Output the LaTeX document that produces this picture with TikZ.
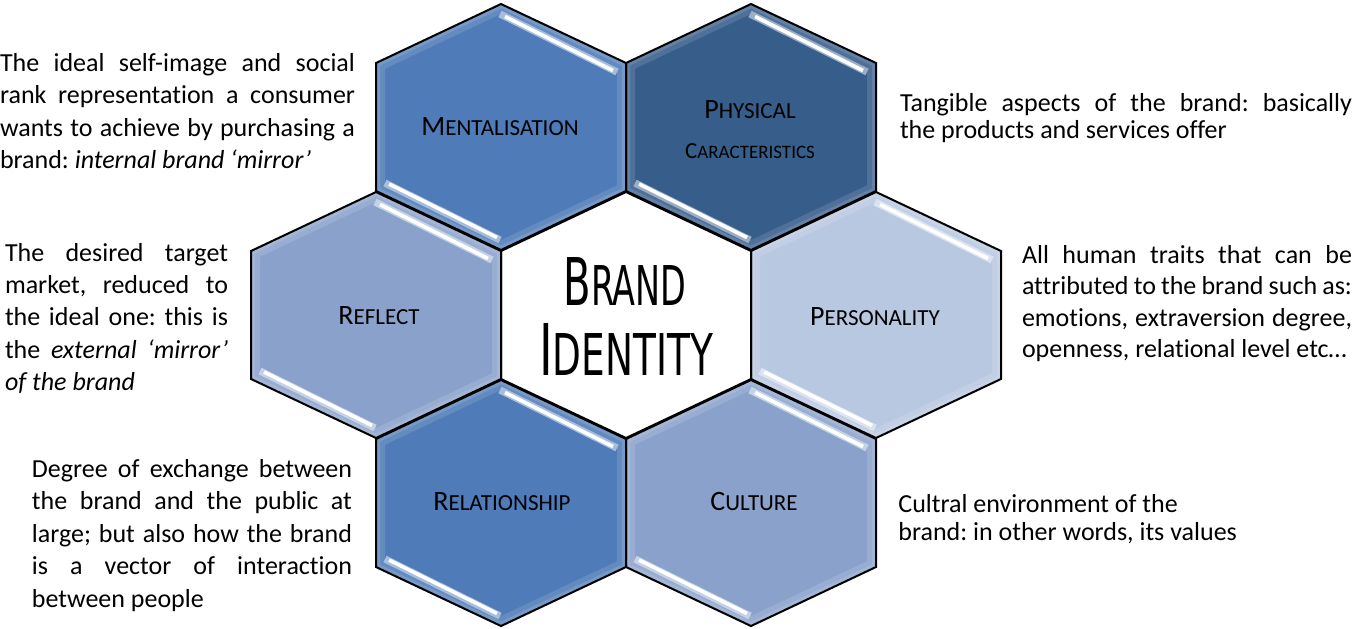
\documentclass[tikz,border=0pt]{standalone}
\usepackage{fontspec}
\usepackage{graphicx}
\setmainfont{Carlito}[Ligatures=NoCommon]
\newfontfamily\titlefont{DejaVu Sans}
\setlength\parindent{0pt}
\frenchspacing
\hyphenpenalty=10000
\exhyphenpenalty=10000
\tolerance=9999
\definecolor{cMent}{HTML}{4F7CB8}
\definecolor{cPhys}{HTML}{375D8B}
\definecolor{cRefl}{HTML}{8AA2CB}
\definecolor{cPers}{HTML}{B9C8E1}
\definecolor{cRel}{HTML}{4F7CB8}
\definecolor{cCult}{HTML}{8AA2CB}
\newcommand\sclab[2]{{\fontsize{14}{16}\selectfont #1}{\fontsize{11.5}{14}\selectfont #2}}
\newcommand\sclabsmall[2]{{\fontsize{11.5}{14}\selectfont #1}{\fontsize{9.5}{12}\selectfont #2}}
\tikzset{
  hexpath/.style={insert path={(0,-123) -- (125,-64) -- (125,64) -- (0,123) -- (-125,64) -- (-125,-64) -- cycle}},
  hexborder/.style={draw=black, line width=1pt, line join=miter},
  desc/.style={inner sep=0pt, outer sep=0pt, anchor=north west, align=justify},
  hexlabel/.style={inner sep=0pt, anchor=base, text=black},
}
\newcommand\brandhex[4]{%
  \coordinate (#1) at (#2,#3);
  \begin{scope}[shift={(#1)}]
    \fill[#4, hexpath];
    \begin{scope}
      \clip[hexpath];
      \draw[white, opacity=.12, line width=9pt, hexpath];
      \draw[white, opacity=.12, line width=4pt, hexpath];
    \end{scope}
    \draw[line width=3.6pt, white!50!#4] (-1,-113) -- (116,-55);
    \draw[line width=1.8pt, white] (4,-110.5) -- (112,-56.5);
    \draw[line width=3.6pt, white!50!#4] (-116,56) -- (-1,113);
    \draw[line width=1.8pt, white] (-112,57) -- (-4,110.5);
  \end{scope}}
\begin{document}
\begin{tikzpicture}[x=0.5pt, y=-0.5pt]
\useasboundingbox (0,0) rectangle (1366,628);
% hexagon fills
\brandhex{hMent}{501}{127}{cMent}
\brandhex{hPhys}{751}{127}{cPhys}
\brandhex{hRefl}{376}{315}{cRefl}
\brandhex{hPers}{876}{315}{cPers}
\brandhex{hRel}{501}{503}{cRel}
\brandhex{hCult}{751}{503}{cCult}
\coordinate (hCent) at (626,315);
\fill[white, shift={(hCent)}, hexpath];
% borders
\foreach \h in {hMent,hPhys,hRefl,hPers,hRel,hCult,hCent}{
  \draw[hexborder, shift={(\h)}, hexpath];
}
% hexagon labels
\node[hexlabel] (lMent) at (500,135) {\sclab{M}{ENTALISATION}};
\node[hexlabel] (lPhys1) at (750,118) {\sclab{P}{HYSICAL}};
\node[hexlabel] (lPhys2) at (750,158) {\sclabsmall{C}{ARACTERISTICS}};
\node[hexlabel] (lRefl) at (379,324) {\sclab{R}{EFLECT}};
\node[hexlabel] (lPers) at (875,325) {\sclab{P}{ERSONALITY}};
\node[hexlabel] (lRel) at (502,510) {\sclab{R}{ELATIONSHIP}};
\node[hexlabel] (lCult) at (754,510) {\sclab{C}{ULTURE}};
% centre title
\node[hexlabel] (tBrand) at (625,305) {\titlefont\scalebox{0.61}[1]{{\fontsize{32.9}{36}\selectfont B}{\fontsize{27.4}{30}\selectfont RAND}}};
\node[hexlabel] (tIdent) at (626,375) {\titlefont\scalebox{0.65}[1]{{\fontsize{35.7}{38}\selectfont I}{\fontsize{28.8}{32}\selectfont DENTITY}}};
% descriptions
\node[desc, text width=177.5pt, font=\fontsize{13}{16.3}\selectfont] (dMent) at (0,53)
  {The ideal self-image and social\linebreak rank representation a consumer\linebreak wants to achieve by purchasing a\linebreak brand: \textit{internal brand ‘mirror’}};
\node[desc, text width=111.5pt, font=\fontsize{13}{16.2}\selectfont] (dRefl) at (5,243)
  {The desired target\linebreak market, reduced to\linebreak the ideal one: this is\linebreak the \textit{external ‘mirror’}\linebreak \textit{of the brand}};
\node[desc, text width=160pt, font=\fontsize{13}{16.3}\selectfont] (dRel) at (32,459)
  {Degree of exchange between\linebreak the brand and the public at\linebreak large; but also how the brand\linebreak is a vector of interaction\linebreak between people};
\node[desc, text width=226pt, font=\fontsize{13}{13.75}\selectfont] (dPhys) at (900,93)
  {Tangible aspects of the brand: basically\linebreak the products and services offer};
\node[desc, text width=165pt, font=\fontsize{13}{15.75}\selectfont] (dPers) at (1022,245)
  {All human traits that can be\linebreak attributed to the brand such as:\linebreak emotions, extraversion degree,\linebreak openness, relational level etc…};
\node[inner sep=0pt, anchor=north west, align=left, font=\fontsize{13}{14}\selectfont] (dCult) at (898,494)
  {Cultral environment of the\\brand: in other words, its values};
\end{tikzpicture}
\end{document}
